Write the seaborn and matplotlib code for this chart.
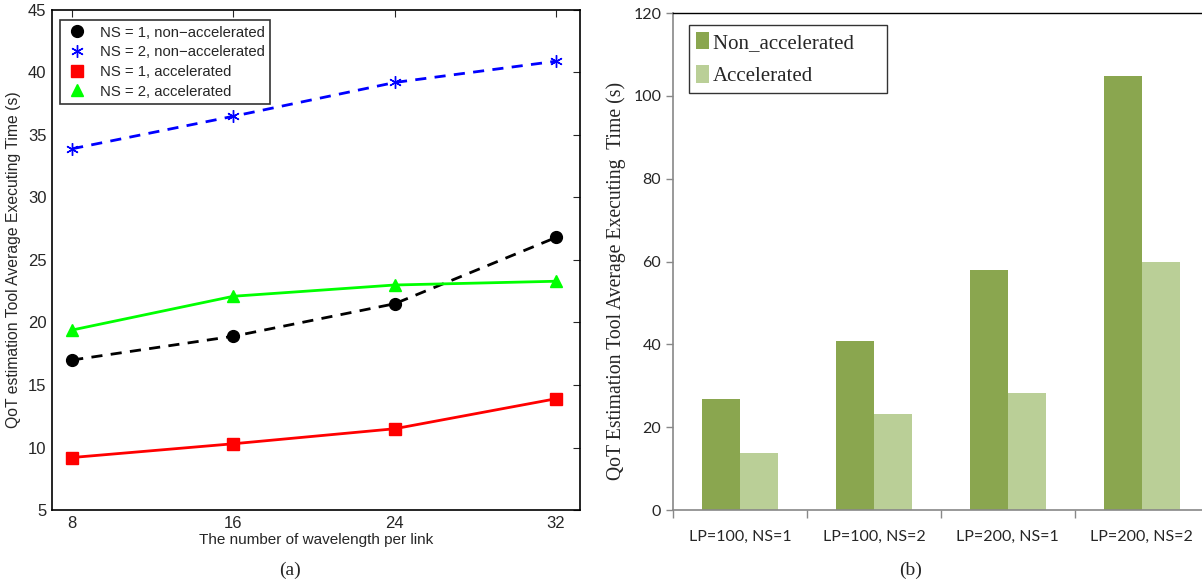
import matplotlib
matplotlib.use("Agg")
import matplotlib.pyplot as plt
import seaborn as sns
import pandas as pd
import numpy as np
from matplotlib.ticker import FixedLocator

# ---- data: panel (a)
wavelengths = [8, 16, 24, 32]
ns1_nonacc = [17.0, 18.9, 21.5, 26.8]
ns2_nonacc = [33.9, 36.5, 39.2, 40.9]
ns1_acc = [9.2, 10.3, 11.5, 13.9]
ns2_acc = [19.4, 22.1, 23.0, 23.3]
series_labels = ["NS = 1, non\u2212accelerated", "NS = 2, non\u2212accelerated",
                 "NS = 1, accelerated", "NS = 2, accelerated"]

# ---- data: panel (b)
bar_categories = ["LP=100, NS=1", "LP=100, NS=2", "LP=200, NS=1", "LP=200, NS=2"]
bar_nonacc = [26.8, 40.8, 57.9, 104.7]
bar_acc = [13.8, 23.3, 28.3, 59.9]
bar_series = ["Non_accelerated", "Accelerated"]

sns.set_style("white")
plt.rcParams['font.family'] = ['Liberation Sans', 'DejaVu Sans']

fig = plt.figure(figsize=(12.02, 5.81), dpi=100)

# ================= panel (a)
ax1 = fig.add_axes([0.0433, 0.1222, 0.4393, 0.8606])
styles = [
    dict(color="black", ls=(0, (4, 3)), marker="o", ms=8.5, mec="black"),
    dict(color="#0000FF", ls=(0, (4, 3)), marker=(6, 2, 0), ms=9, mew=1.0),
    dict(color="#FF0000", ls="-", marker="s", ms=8, mec="#FF0000"),
    dict(color="#00FF00", ls="-", marker="^", ms=9, mec="#00FF00"),
]
all_series = [ns1_nonacc, ns2_nonacc, ns1_acc, ns2_acc]
for vals, lab, st in zip(all_series, series_labels, styles):
    df = pd.DataFrame({"x": wavelengths, "y": vals})
    sns.lineplot(data=df, x="x", y="y", ax=ax1, color=st["color"], lw=2,
                 linestyle=st["ls"], marker=st["marker"], markersize=st["ms"],
                 markeredgecolor=st.get("mec", st["color"]),
                 markeredgewidth=st.get("mew", 1.0), label=lab)
ax1.set_xlim(7.0, 33.2)
ax1.set_ylim(5, 45)
ax1.set_xticks(wavelengths)
ax1.set_yticks(np.arange(5, 46, 5))
ax1.tick_params(direction="in", length=5, width=0.8, top=True, right=True,
                labelsize=12, pad=4)
for s in ax1.spines.values():
    s.set_linewidth(1.2)
    s.set_color("black")
ax1.set_xlabel("The number of wavelength per link", fontsize=11, labelpad=2)
ax1.set_ylabel("QoT estimation Tool Average Executing Time (s)", fontsize=11.3, labelpad=5)
leg1 = ax1.legend(loc="upper left", bbox_to_anchor=(0.01, 0.985), fontsize=10.7,
                  frameon=True, fancybox=False, edgecolor="black",
                  borderpad=0.35, labelspacing=0.38, handlelength=1.6,
                  handletextpad=0.7, borderaxespad=0.2)
leg1.get_frame().set_linewidth(1.2)
for h in leg1.legend_handles:
    h.set_linestyle("none")

# ================= panel (b)
ax2 = fig.add_axes([0.56, 0.1222, 0.44, 0.8554])
dfb = pd.DataFrame({
    "cat": bar_categories * 2,
    "val": bar_nonacc + bar_acc,
    "series": [bar_series[0]] * 4 + [bar_series[1]] * 4,
})
sns.barplot(data=dfb, x="cat", y="val", hue="series", ax=ax2,
            palette=["#8AA64F", "#BACF97"], width=0.57, saturation=1,
            edgecolor="none", linewidth=0)
ax2.set_xlim(-0.5, 3.45)
ax2.set_ylim(0, 120)
ax2.set_yticks(np.arange(0, 121, 20))
ax2.xaxis.set_minor_locator(FixedLocator([-0.5, 0.5, 1.5, 2.5]))
ax2.tick_params(axis="x", which="major", length=0, labelsize=11.5, pad=14)
ax2.tick_params(axis="x", which="minor", length=6, width=1, color="#888888",
                direction="out", bottom=True)
ax2.tick_params(axis="y", length=5, width=1, color="#888888", direction="out",
                left=True, labelsize=11.5)
for lab in ax2.get_xticklabels() + ax2.get_yticklabels():
    lab.set_family(["Lato", "DejaVu Sans"])
ax2.spines["right"].set_visible(False)
ax2.spines["top"].set_color("black")
ax2.spines["top"].set_linewidth(1.0)
ax2.spines["left"].set_color("#888888")
ax2.spines["bottom"].set_color("#888888")
ax2.spines["left"].set_linewidth(1.2)
ax2.spines["bottom"].set_linewidth(1.2)
ax2.set_xlabel("")
ax2.set_ylabel("QoT Estimation Tool Average Executing  Time (s)",
               family=["Liberation Serif"], fontsize=14.2)
ax2.yaxis.set_label_coords(-0.09, 0.46)
leg2 = ax2.legend(loc="upper left", bbox_to_anchor=(0.022, 0.985),
                  prop={"family": "Liberation Serif", "size": 15},
                  frameon=True, fancybox=False, edgecolor="black",
                  borderpad=0.35, labelspacing=0.6, handlelength=0.6,
                  handleheight=0.9, handletextpad=0.2, borderaxespad=0.2)
leg2.get_frame().set_linewidth(1.0)
leg2.texts[0].set_text("Non_accelerated     ")

fig.text(290 / 1202, 1 - 570 / 581, "(a)", ha="center", va="center",
         family="Liberation Serif", fontsize=14)
fig.text(911 / 1202, 1 - 570 / 581, "(b)", ha="center", va="center",
         family="Liberation Serif", fontsize=14)

fig.savefig("out.png", dpi=100)
